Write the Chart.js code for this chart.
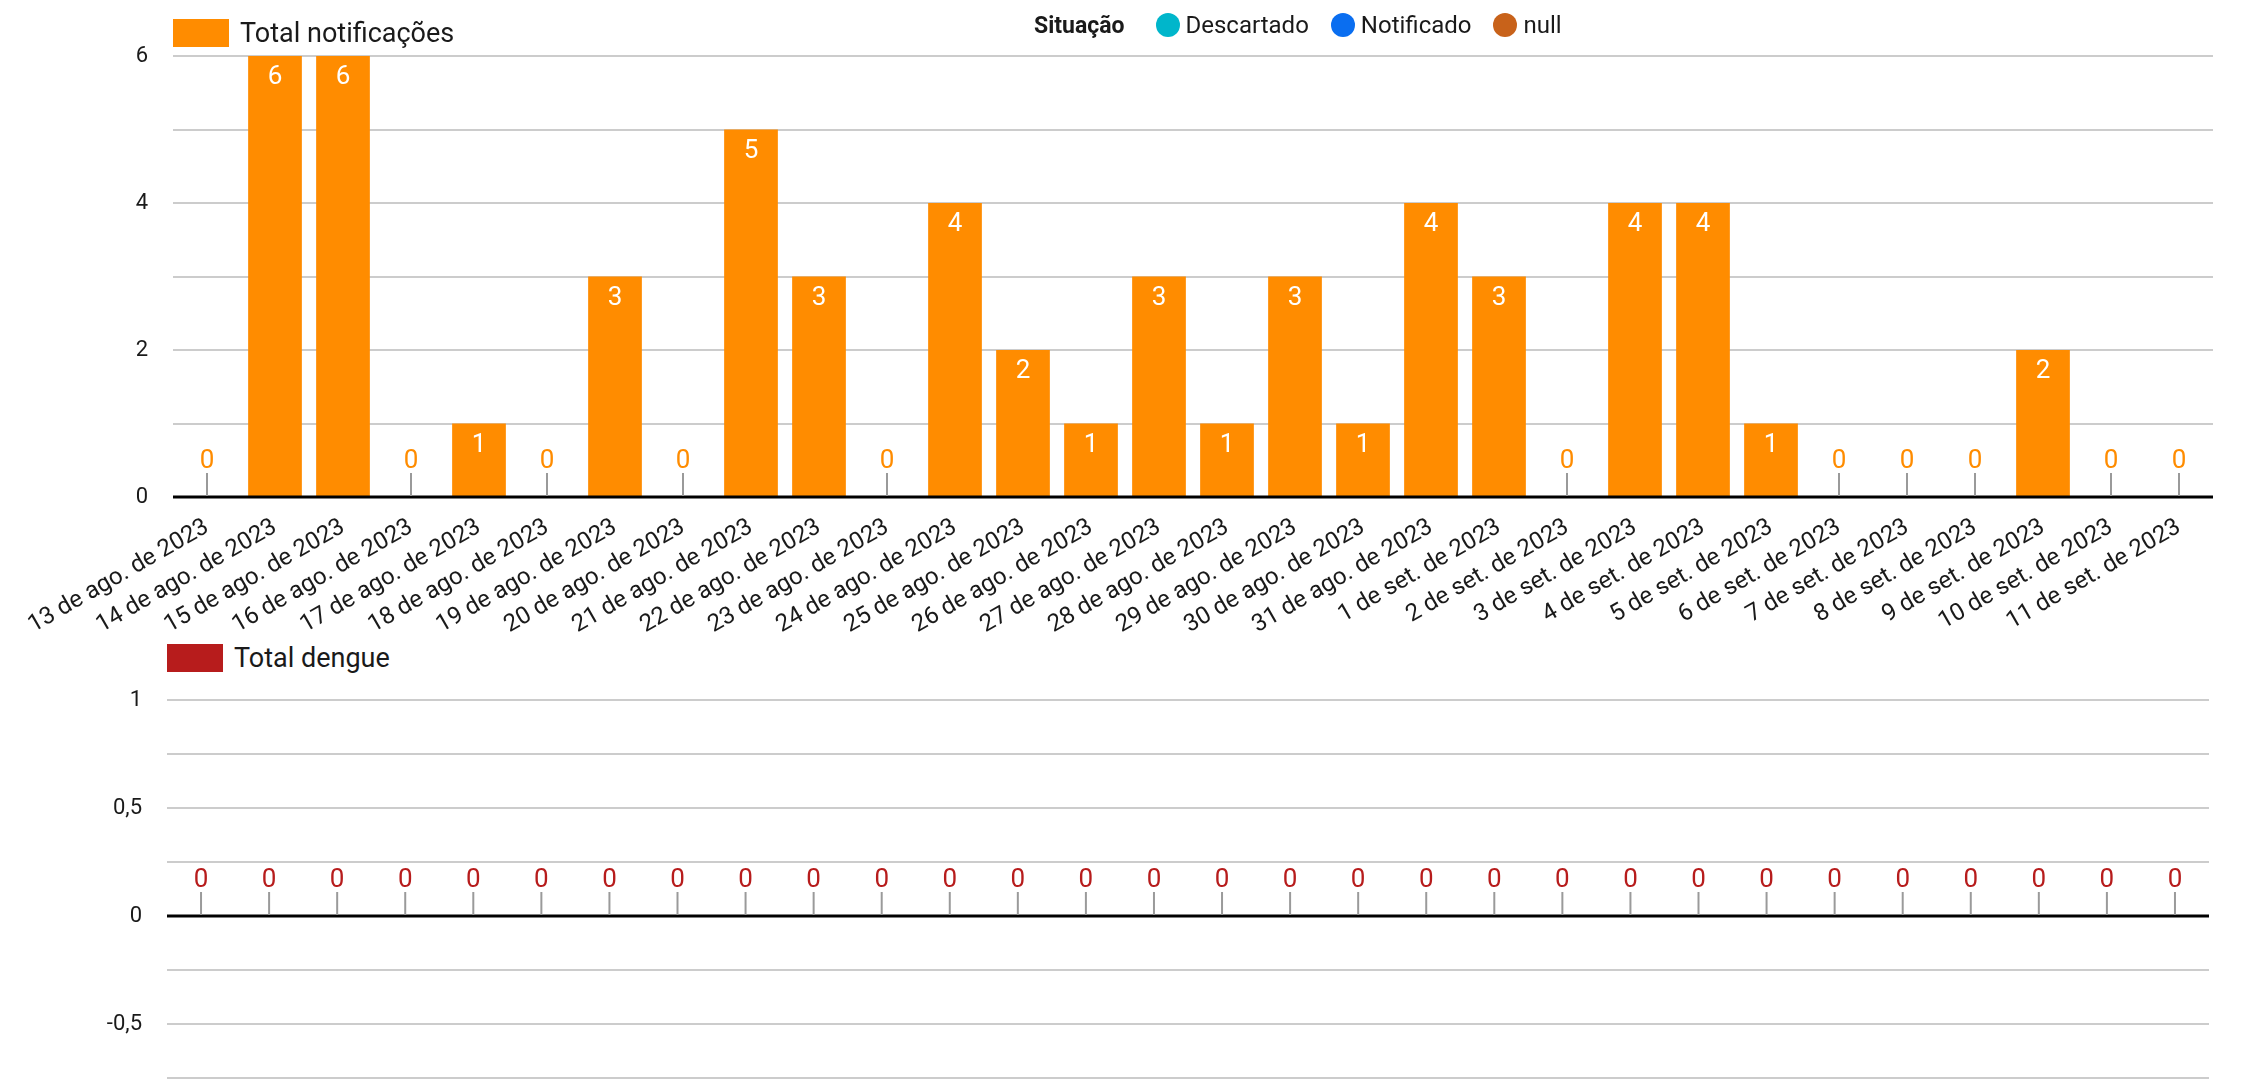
<!DOCTYPE html>
<html lang="pt-BR">
<head>
    <meta charset="UTF-8">
    <title>Total notificações e dengue</title>
    <script src="https://cdn.jsdelivr.net/npm/chart.js"></script>
    <style>
        body {
            margin: 0;
            background: #fff;
            font-family: Roboto, sans-serif;
            overflow: hidden;
        }

        .wrap {
            position: relative;
            width: 2249px;
            height: 1082px;
        }

        canvas {
            position: absolute;
            left: 0;
        }

        #topChart { top: 0; }
        #bottomChart { top: 680px; }

        .legend {
            position: absolute;
            display: flex;
            align-items: center;
            font-size: 27px;
            color: #1a1a1a;
            white-space: nowrap;
        }

        .legend .box {
            width: 56px;
            height: 28px;
            margin-right: 11px;
        }

        #situacao {
            position: absolute;
            top: 11px;
            left: 1034px;
            display: flex;
            align-items: center;
            font-size: 24px;
            color: #1a1a1a;
            white-space: nowrap;
        }

        #situacao b {
            font-size: 23px;
            margin-right: 31px;
        }

        #situacao .dot {
            width: 24px;
            height: 24px;
            border-radius: 50%;
            margin-right: 6px;
        }

        #situacao .item {
            display: flex;
            align-items: center;
            margin-right: 22px;
        }
    </style>
</head>
<body>
<div class="wrap">
    <canvas id="topChart" width="2249" height="640"></canvas>
    <canvas id="bottomChart" width="2249" height="402"></canvas>

    <div class="legend" id="legendTop" style="left:173px; top:17px;"></div>
    <div class="legend" id="legendBottom" style="left:167px; top:642px;"></div>
    <div id="situacao"></div>
</div>

<script>
    // Categories (one per day)
    const dates = [
        '13 de ago. de 2023', '14 de ago. de 2023', '15 de ago. de 2023', '16 de ago. de 2023',
        '17 de ago. de 2023', '18 de ago. de 2023', '19 de ago. de 2023', '20 de ago. de 2023',
        '21 de ago. de 2023', '22 de ago. de 2023', '23 de ago. de 2023', '24 de ago. de 2023',
        '25 de ago. de 2023', '26 de ago. de 2023', '27 de ago. de 2023', '28 de ago. de 2023',
        '29 de ago. de 2023', '30 de ago. de 2023', '31 de ago. de 2023', '1 de set. de 2023',
        '2 de set. de 2023', '3 de set. de 2023', '4 de set. de 2023', '5 de set. de 2023',
        '6 de set. de 2023', '7 de set. de 2023', '8 de set. de 2023', '9 de set. de 2023',
        '10 de set. de 2023', '11 de set. de 2023'
    ];

    // Series values
    const totalNotificacoes = [0, 6, 6, 0, 1, 0, 3, 0, 5, 3, 0, 4, 2, 1, 3, 1, 3, 1, 4, 3, 0, 4, 4, 1, 0, 0, 0, 2, 0, 0];
    const totalDengue = [0, 0, 0, 0, 0, 0, 0, 0, 0, 0, 0, 0, 0, 0, 0, 0, 0, 0, 0, 0, 0, 0, 0, 0, 0, 0, 0, 0, 0, 0];

    // Legend entries for "Situação"
    const situacaoLabels = ['Descartado', 'Notificado', 'null'];
    const situacaoColors = ['#00B6CB', '#0A6EF0', '#C8621A'];

    const ORANGE = '#FF8C00';
    const RED = '#B71C1C';
    const TEXT = '#1a1a1a';

    // simple html legends
    function swatchLegend(id, color, text) {
        const el = document.getElementById(id);
        el.innerHTML = '<span class="box" style="background:' + color + '"></span><span>' + text + '</span>';
    }
    swatchLegend('legendTop', ORANGE, 'Total notificações');
    swatchLegend('legendBottom', RED, 'Total dengue');

    const sit = document.getElementById('situacao');
    sit.innerHTML = '<b>Situação</b>' + situacaoLabels.map((l, i) =>
        '<span class="item"><span class="dot" style="background:' + situacaoColors[i] + '"></span>' + l + '</span>'
    ).join('');

    // value labels, zero stems and the zero line on top of the bars
    const valueLabels = {
        id: 'valueLabels',
        afterDatasetsDraw(chart, args, opts) {
            const ctx = chart.ctx;
            const y0 = chart.scales.y.getPixelForValue(0);
            const area = chart.chartArea;
            const data = chart.data.datasets[0].data;
            ctx.save();
            ctx.strokeStyle = '#000';
            ctx.lineWidth = 3;
            ctx.beginPath();
            ctx.moveTo(area.left, y0);
            ctx.lineTo(area.right, y0);
            ctx.stroke();

            ctx.font = '26px Roboto';
            ctx.textAlign = 'center';
            ctx.textBaseline = 'alphabetic';
            chart.getDatasetMeta(0).data.forEach((bar, i) => {
                const v = data[i];
                if (v === 0) {
                    ctx.strokeStyle = '#9a9a9a';
                    ctx.lineWidth = 2;
                    ctx.beginPath();
                    ctx.moveTo(bar.x, y0 - 1);
                    ctx.lineTo(bar.x, y0 - 24);
                    ctx.stroke();
                    ctx.fillStyle = opts.color;
                    ctx.fillText('0', bar.x, y0 - 29);
                } else {
                    ctx.fillStyle = '#fff';
                    ctx.fillText(String(v), bar.x, bar.y + 28);
                }
            });
            ctx.restore();
        }
    };

    const gridColor = c => c.tick.value === 0 ? 'rgba(0,0,0,0)' : '#cccccc';

    // fixed y axis width, no extra label padding above/below the plot
    const fixY = w => s => {
        s.width = w;
        s.paddingTop = 0;
        s.paddingBottom = 0;
    };

    // Top chart: Total notificações
    new Chart(document.getElementById('topChart'), {
        type: 'bar',
        data: {
            labels: dates,
            datasets: [{
                label: 'Total notificações',
                data: totalNotificacoes,
                backgroundColor: ORANGE,
                categoryPercentage: 1,
                barPercentage: 0.79
            }]
        },
        options: {
            responsive: false,
            animation: false,
            layout: { padding: { top: 56, right: 36, bottom: 0, left: 0 } },
            plugins: {
                legend: { display: false },
                tooltip: { enabled: false },
                valueLabels: { color: ORANGE }
            },
            scales: {
                x: {
                    grid: { display: false },
                    border: { display: false },
                    ticks: {
                        color: TEXT,
                        font: { family: 'Roboto', size: 24 },
                        minRotation: 30,
                        maxRotation: 30,
                        autoSkip: false,
                        padding: 8
                    },
                    afterFit: s => { s.height = 143; }
                },
                y: {
                    min: 0,
                    max: 6,
                    grid: { color: gridColor, lineWidth: 2, drawTicks: false },
                    border: { display: false },
                    ticks: {
                        stepSize: 1,
                        padding: 25,
                        color: TEXT,
                        font: { family: 'Roboto', size: 22 },
                        callback: v => v % 2 === 0 ? v : ''
                    },
                    afterFit: fixY(173)
                }
            }
        },
        plugins: [valueLabels]
    });

    // Bottom chart: Total dengue
    new Chart(document.getElementById('bottomChart'), {
        type: 'bar',
        data: {
            labels: dates,
            datasets: [{
                label: 'Total dengue',
                data: totalDengue,
                backgroundColor: RED,
                categoryPercentage: 1,
                barPercentage: 0.79
            }]
        },
        options: {
            responsive: false,
            animation: false,
            layout: { padding: { top: 20, right: 40, bottom: 4, left: 0 } },
            plugins: {
                legend: { display: false },
                tooltip: { enabled: false },
                valueLabels: { color: RED }
            },
            scales: {
                x: { display: false },
                y: {
                    min: -0.75,
                    max: 1,
                    grid: { color: gridColor, lineWidth: 2, drawTicks: false },
                    border: { display: false },
                    ticks: {
                        stepSize: 0.25,
                        padding: 25,
                        color: TEXT,
                        font: { family: 'Roboto', size: 22 },
                        callback: v => Math.abs(v * 2 - Math.round(v * 2)) < 1e-9 ? String(v).replace('.', ',') : ''
                    },
                    afterFit: fixY(167)
                }
            }
        },
        plugins: [valueLabels]
    });
</script>
</body>
</html>
